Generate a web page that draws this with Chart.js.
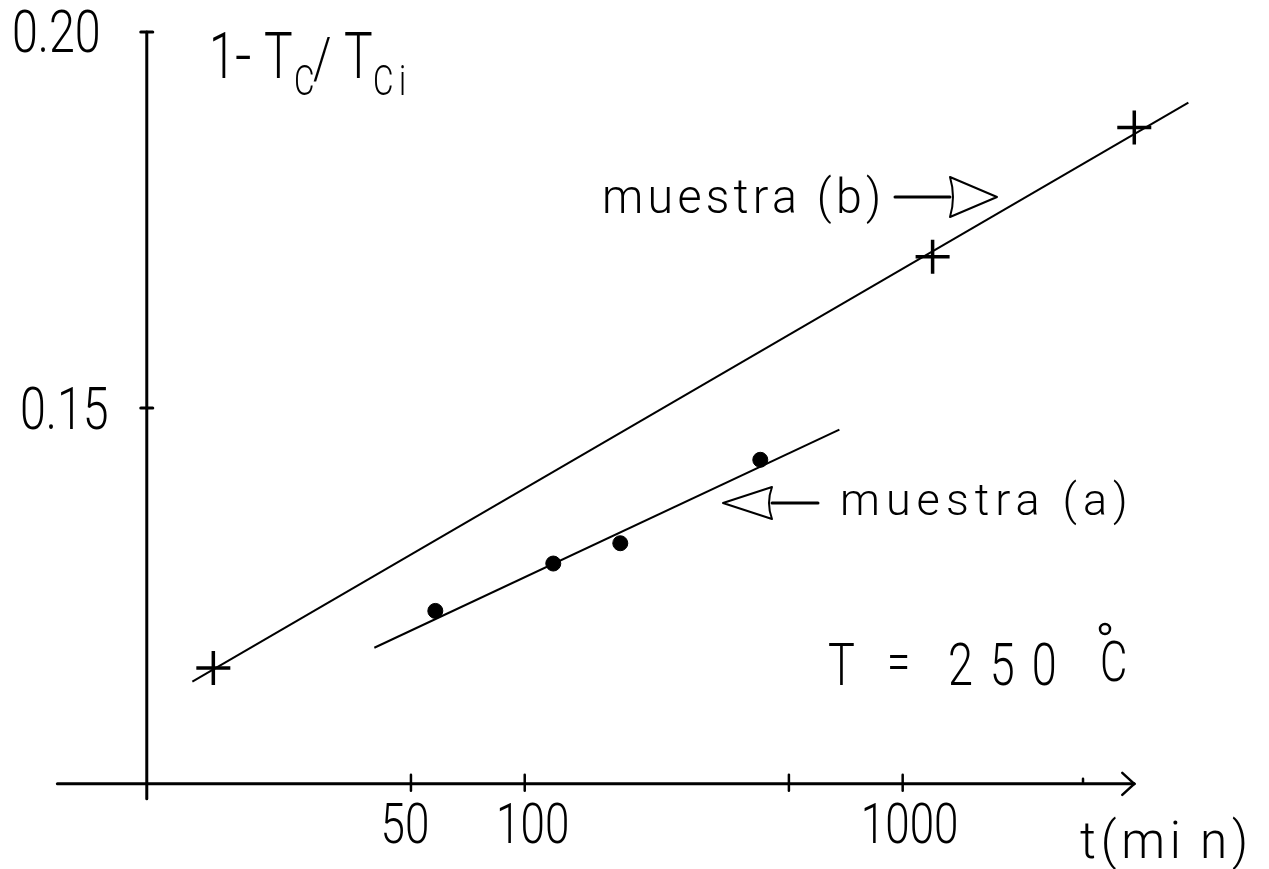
<!DOCTYPE html>
<html>
<head>
<meta charset="utf-8">
<title>1 - Tc/Tci vs t</title>
<script src="https://cdn.jsdelivr.net/npm/chart.js@4/dist/chart.umd.min.js"></script>
<style>
  html, body { margin: 0; padding: 0; background: #ffffff; }
  #wrap { width: 1269px; height: 869px; }
</style>
</head>
<body>
<div id="wrap"><canvas id="c" width="1269" height="869"></canvas></div>
<script>
// Sample (b): measured points, t in minutes
const timesB = [15, 1200, 4100];
const valuesB = [0.1154, 0.1701, 0.1873];
// Sample (a): measured points
const timesA = [58, 119, 179, 420];
const valuesA = [0.1230, 0.1293, 0.1320, 0.1431];
// Straight-line fits (semi-log)
const fitTimesB = [13.2, 5700];
const fitValuesB = [0.1136, 0.1906];
const fitTimesA = [40, 680];
const fitValuesA = [0.1181, 0.1471];
// Axis ticks
const xTickValues = [50, 100, 500, 1000, 3000];
const xTickLabels = ['50', '100', '', '1000', ''];
const yTickValues = [0.15, 0.20];
const yTickLabels = ['0.15', '0.20'];
// Where the drawn axes cross each other
const axisCrossT = 10;
const axisCrossY = 0.10;

const pts = (xs, ys) => xs.map((x, i) => ({ x: x, y: ys[i] }));
const FONT = 'Roboto, "DejaVu Sans", sans-serif';

function txt(ctx, s, x, y, size, sx, spacing) {
  ctx.save();
  ctx.font = '300 ' + size + 'px ' + FONT;
  ctx.letterSpacing = (spacing || 0) + 'px';
  ctx.textAlign = 'left';
  ctx.textBaseline = 'alphabetic';
  ctx.fillStyle = '#000';
  ctx.translate(x, y);
  ctx.scale(sx, 1);
  ctx.fillText(s, 0, 0);
  ctx.restore();
}

function textWidth(ctx, s, size, sx) {
  ctx.save();
  ctx.font = '300 ' + size + 'px ' + FONT;
  const w = ctx.measureText(s).width * sx;
  ctx.restore();
  return w;
}

function line(ctx, x1, y1, x2, y2, w) {
  ctx.beginPath();
  ctx.lineWidth = w;
  ctx.moveTo(x1, y1);
  ctx.lineTo(x2, y2);
  ctx.stroke();
}

// Hollow arrow head with a short shaft; points from backX towards tipX
function hollowArrow(ctx, shaftStart, backX, tipX, y, halfH) {
  ctx.save();
  ctx.strokeStyle = '#000';
  ctx.lineJoin = 'round';
  line(ctx, shaftStart, y, backX, y, 3);
  const dir = Math.sign(tipX - backX);
  ctx.beginPath();
  ctx.lineWidth = 2;
  ctx.moveTo(tipX, y);
  ctx.lineTo(backX, y - halfH);
  ctx.quadraticCurveTo(backX + dir * 6, y, backX, y + halfH);
  ctx.closePath();
  ctx.stroke();
  ctx.restore();
}

// small horizontal nudges of the x tick labels relative to their ticks
const xLabelShift = { 50: -6, 100: 8, 1000: 7 };

const axesPlugin = {
  id: 'axesAndNotes',
  afterDraw(chart) {
    const ctx = chart.ctx;
    const xs = chart.scales.x, ys = chart.scales.y;
    const ax = xs.getPixelForValue(axisCrossT);
    const ay = ys.getPixelForValue(axisCrossY);
    ctx.save();
    ctx.strokeStyle = '#000';
    ctx.lineCap = 'round';

    // vertical axis
    const yTop = ys.getPixelForValue(0.20);
    line(ctx, ax, yTop, ax, ay + 15, 3);
    yTickValues.forEach((v) => {
      const py = ys.getPixelForValue(v);
      line(ctx, ax - 6, py, ax + 6, py, 3);
    });
    txt(ctx, yTickLabels[1], 12, yTop + 20, 59, 0.79, 0);
    txt(ctx, yTickLabels[0], 20, ys.getPixelForValue(0.15) + 21, 59, 0.79, 0);

    // horizontal axis with arrow
    const xLeft = xs.getPixelForValue(5.8);
    const xTip = xs.getPixelForValue(4100);
    line(ctx, xLeft, ay, xTip, ay, 3);
    line(ctx, xTip - 12, ay - 11, xTip, ay, 2.5);
    line(ctx, xTip - 12, ay + 11, xTip, ay, 2.5);
    xTickValues.forEach((v, i) => {
      const px = xs.getPixelForValue(v);
      if (xTickLabels[i] === '' && v > 1000) {
        line(ctx, px, ay - 5, px, ay, 2.5);
      } else {
        line(ctx, px, ay - 9, px, ay + 7, 2.5);
      }
      if (xTickLabels[i]) {
        const w = textWidth(ctx, xTickLabels[i], 55, 0.8);
        txt(ctx, xTickLabels[i], px - w / 2 + (xLabelShift[v] || 0), ay + 59, 55, 0.8, 0);
      }
    });
    txt(ctx, 't(mi', 1080, 858, 52, 0.95, 5);
    txt(ctx, 'n)', 1200, 858, 52, 0.95, 5);

    // y-axis title: 1 - Tc / Tci
    txt(ctx, '1', 209, 78, 64, 0.75, 0);
    txt(ctx, '-', 235, 78, 64, 0.9, 0);
    txt(ctx, 'T', 264, 78, 64, 0.75, 0);
    txt(ctx, 'C', 294, 95, 42, 0.75, 0);
    txt(ctx, '/', 313, 78, 58, 0.8, 0);
    txt(ctx, 'T', 344, 78, 64, 0.75, 0);
    txt(ctx, 'C', 373, 95, 42, 0.75, 0);
    txt(ctx, 'i', 399, 95, 42, 0.75, 0);

    // sample labels with arrows
    txt(ctx, 'muestra (b)', 602, 213, 49, 0.95, 4.5);
    hollowArrow(ctx, 895, 950, 997, 197, 20);
    txt(ctx, 'muestra (a)', 840, 515, 45, 1.0, 6);
    hollowArrow(ctx, 818, 772, 723, 503, 16);

    // temperature
    txt(ctx, 'T', 828, 685, 60, 0.75, 0);
    txt(ctx, '=', 887, 680, 56, 0.75, 0);
    txt(ctx, '250', 948, 685, 60, 0.75, 22.5);
    ctx.beginPath();
    ctx.lineWidth = 2.5;
    ctx.arc(1105, 629, 5, 0, Math.PI * 2);
    ctx.stroke();
    txt(ctx, 'C', 1100, 681, 56, 0.75, 0);

    ctx.restore();
  }
};

new Chart(document.getElementById('c'), {
  type: 'scatter',
  data: {
    datasets: [
      { label: 'ajuste (b)', data: pts(fitTimesB, fitValuesB), showLine: true,
        borderColor: '#000', borderWidth: 2, pointRadius: 0 },
      { label: 'ajuste (a)', data: pts(fitTimesA, fitValuesA), showLine: true,
        borderColor: '#000', borderWidth: 2, pointRadius: 0 },
      { label: 'muestra (b)', data: pts(timesB, valuesB), showLine: false,
        pointStyle: 'cross', pointRadius: 17, borderColor: '#000', borderWidth: 3.5 },
      { label: 'muestra (a)', data: pts(timesA, valuesA), showLine: false,
        pointStyle: 'circle', pointRadius: 7.5, backgroundColor: '#000', borderColor: '#000', borderWidth: 1 }
    ]
  },
  options: {
    responsive: false,
    animation: false,
    devicePixelRatio: 1,
    layout: { autoPadding: false, padding: { left: 33, right: 25, top: 32, bottom: 10 } },
    scales: {
      x: { type: 'logarithmic', min: 5, max: 8000, display: false },
      y: { type: 'linear', min: 0.09, max: 0.20, display: false }
    },
    plugins: { legend: { display: false }, tooltip: { enabled: false } },
    elements: { line: { tension: 0 } }
  },
  plugins: [axesPlugin]
});
</script>
</body>
</html>
